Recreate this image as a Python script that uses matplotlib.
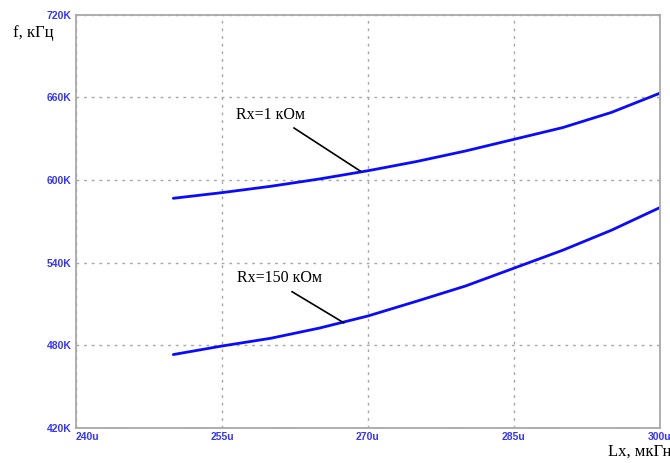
import matplotlib
matplotlib.use('Agg')
import matplotlib.pyplot as plt
import numpy as np

# inductance, uH
Lx = [250, 255, 260, 265, 270, 275, 280, 285, 290, 295, 300]
# frequency, kHz
f_1k = [586.7, 590.8, 595.4, 600.7, 606.7, 613.4, 621.0, 629.5, 638.0, 649.0, 663.0]
f_150k = [473.3, 479.5, 485.1, 492.5, 501.3, 512.0, 523.0, 536.0, 549.0, 563.5, 580.0]

xticks = [240, 255, 270, 285, 300]
yticks = [420, 480, 540, 600, 660, 720]

serif = 'Liberation Serif'
tick_col = '#3535ff'
frame_col = '#a8a8a8'

fig = plt.figure(figsize=(6.7, 4.63), dpi=100)
ax = fig.add_axes([76/670, 1 - 428/463, 584/670, (428 - 14.6)/463])

ax.plot(Lx, f_1k, color='#0a0aff', lw=2.0, solid_capstyle='round')
ax.plot(Lx, f_150k, color='#0a0aff', lw=2.0, solid_capstyle='round')

ax.set_xlim(240, 300)
ax.set_ylim(420, 720)
ax.set_xticks(xticks)
ax.set_yticks(yticks)
ax.set_xticklabels(['%du' % t for t in xticks])
ax.set_yticklabels(['%dK' % t for t in yticks])
ax.xaxis.get_majorticklabels()[0].set_horizontalalignment('left')
ax.tick_params(length=0, labelsize=7.5, labelcolor=tick_col, pad=3)
for lab in ax.get_xticklabels() + ax.get_yticklabels():
    lab.set_fontfamily('Liberation Sans')
    lab.set_fontweight('bold')

ax.grid(True, color='#a8a8a8', ls=(0, (2, 3.5)), lw=1.0)
for s in ax.spines.values():
    s.set_color(frame_col)
    s.set_linewidth(1.3)

# curve labels and leader lines
ax.text(256.4, 647, 'Rx=1 кОм', fontsize=11.5, family=serif, ha='left', va='center')
ax.plot([262.4, 269.2], [637.7, 606.5], color='black', lw=1.2)
ax.text(256.5, 529, 'Rx=150 кОм', fontsize=11.5, family=serif, ha='left', va='center')
ax.plot([262.2, 267.5], [518.9, 496.4], color='black', lw=1.2)

fig.text(13/670, 1 - 33/463, 'f, кГц', fontsize=12, family=serif, ha='left', va='center')
fig.text(608/670, 1 - 452/463, 'Lx, мкГн', fontsize=12, family=serif, ha='left', va='center')

fig.savefig('out.png', dpi=100)
